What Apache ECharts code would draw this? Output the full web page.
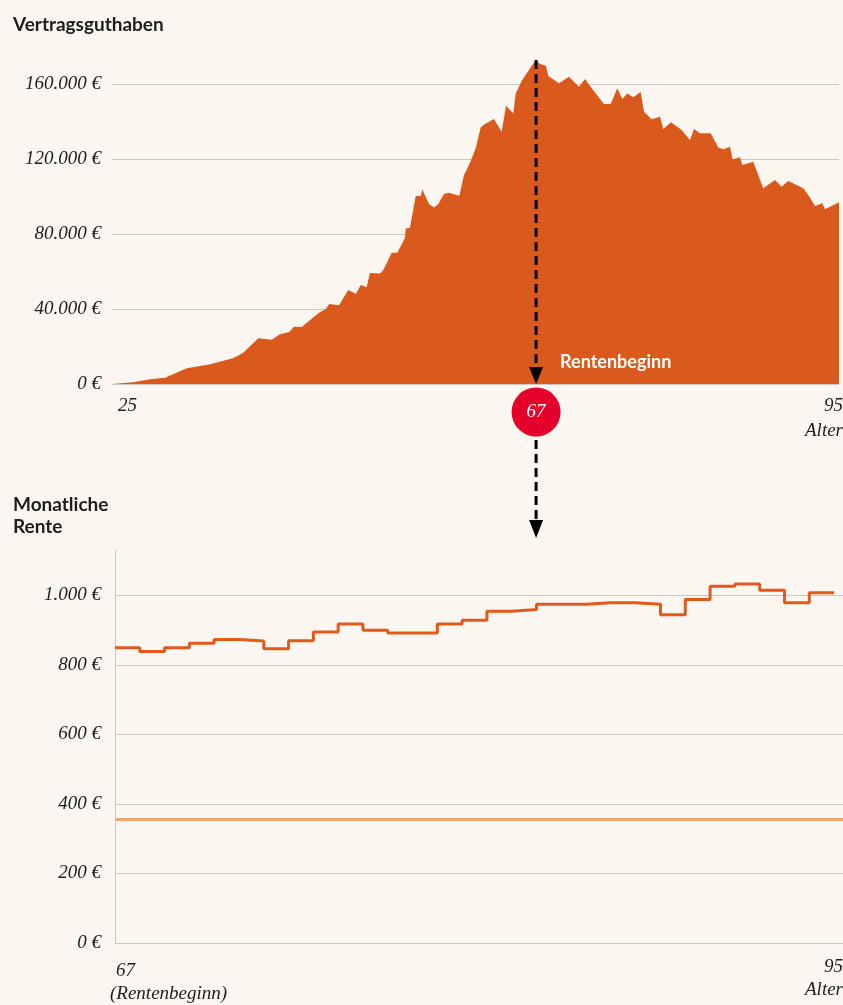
<!DOCTYPE html>
<html>
<head>
<meta charset="utf-8">
<script src="https://cdn.jsdelivr.net/npm/echarts@6/dist/echarts.min.js"></script>
<style>
  html, body { margin: 0; padding: 0; background: #FBF7F0; }
  #chart { width: 843px; height: 1005px; }
</style>
</head>
<body>
<div id="chart"></div>
<script>
// ---- Data ----
// Top chart: contract balance over age (savings phase up to 67, payout phase after)
const balanceAges = [25.00, 27.08, 28.76, 30.25, 32.40, 34.71, 36.98, 38.00, 39.49, 40.82,
  41.64, 42.56, 43.02, 43.79, 45.43, 46.19, 46.52, 47.48, 48.40, 49.16,
  49.63, 50.22, 50.55, 51.54, 51.87, 52.70, 53.26, 54.02, 54.09, 54.51,
  55.08, 55.57, 55.73, 56.40, 56.89, 57.32, 57.88, 58.38, 59.40, 59.86,
  60.36, 61.02, 61.52, 61.94, 62.83, 63.59, 64.02, 64.74, 64.98, 65.58,
  66.07, 66.96, 67.39, 67.98, 68.21, 69.27, 70.26, 71.25, 71.84, 72.51,
  73.73, 74.39, 75.04, 75.54, 76.03, 76.63, 77.36, 77.69, 78.45, 79.27,
  79.60, 80.36, 81.42, 82.24, 82.64, 83.23, 84.29, 85.05, 85.54, 86.21,
  86.47, 87.20, 87.42, 88.51, 89.50, 90.66, 91.32, 91.98, 93.46, 93.96,
  94.62, 95.35, 95.61, 97.00];
const balanceValues = [0, 900, 2500, 3400, 8400, 10500, 13700, 16700, 24400, 23600,
  26500, 27700, 30600, 30400, 37700, 40200, 42700, 42000, 50100, 48200,
  52800, 51600, 59200, 58900, 60800, 70000, 70000, 78000, 83000, 83400,
  100300, 100300, 103800, 96000, 94200, 96000, 101300, 102000, 100400, 111500,
  116800, 125700, 136900, 138700, 141300, 134600, 148400, 144400, 155000, 161800,
  165700, 172800, 170700, 169800, 164300, 160400, 163900, 158600, 162700, 157700,
  149300, 149300, 157700, 152000, 155000, 152900, 155700, 145200, 141200, 142600,
  136000, 139600, 135500, 130100, 136000, 133700, 133700, 126200, 125200, 126600,
  119800, 120900, 116800, 118600, 104400, 108800, 105200, 108300, 104400, 100800,
  94900, 96400, 93200, 96900];

// Bottom chart: monthly pension per year of age 67..95
const renteYears = [67, 68, 69, 70, 71, 72, 73, 74, 75, 76, 77, 78, 79, 80, 81,
  82, 83, 84, 85, 86, 87, 88, 89, 90, 91, 92, 93, 94, 95];
const renteValues = [849, 838, 849, 862, 873, 868, 846, 869, 894, 917, 899, 891, 891, 917, 928,
  954, 959, 974, 974, 978, 978, 974, 944, 988, 1026, 1032, 1014, 978, 1007];
const garantieRente = 356;

const retirementAge = 67;
const topTitle = 'Vertragsguthaben';
const bottomTitle = 'Monatliche\nRente';
const markerText = 'Rentenbeginn';
const topAgeLabels = ['25', '95', 'Alter'];
const bottomAgeLabels = ['67', '(Rentenbeginn)', '95', 'Alter'];

// ---- Chart ----
const BG = '#FBF7F0';
const ORANGE = '#DA5A1D';
const GRID = '#CCC8C1';
const TXT = '#1E1E1E';
const TICKFONT = 'Liberation Serif';

function euro(v) {
  return String(v).replace(/\B(?=(\d{3})+(?!\d))/g, '.') + ' €';
}

const areaData = balanceAges.map((a, i) => [a, balanceValues[i]]);
const stepData = renteYears.map((y, i) => [y, renteValues[i]]);
stepData.push([renteYears[renteYears.length - 1] + 1, renteValues[renteValues.length - 1]]);

const chart = echarts.init(document.getElementById('chart'), null, { renderer: 'canvas' });

const tickLabel = {
  fontFamily: TICKFONT, fontStyle: 'italic', fontSize: 19, color: TXT
};
const titleStyle = { fontFamily: 'Lato', fontWeight: 'bold', fontSize: 19, color: TXT, lineHeight: 22 };

chart.setOption({
  backgroundColor: BG,
  animation: false,
  title: [
    { text: topTitle, left: 8, top: 9, textStyle: titleStyle },
    { text: bottomTitle, left: 8, top: 489, textStyle: titleStyle }
  ],
  grid: [
    { left: 112, right: 4, top: 84, height: 300 },
    { left: 115, right: 0, top: 550, height: 393 }
  ],
  xAxis: [
    { gridIndex: 0, type: 'value', min: 25, max: 97,
      axisLine: { show: false }, axisTick: { show: false }, axisLabel: { show: false }, splitLine: { show: false } },
    { gridIndex: 1, type: 'value', min: 67, max: 96.36,
      axisLine: { show: false }, axisTick: { show: false }, axisLabel: { show: false }, splitLine: { show: false } }
  ],
  yAxis: [
    { gridIndex: 0, type: 'value', min: 0, max: 160000, interval: 40000,
      axisLine: { show: false }, axisTick: { show: false },
      axisLabel: Object.assign({ margin: 11, formatter: euro }, tickLabel),
      splitLine: { show: true, lineStyle: { color: GRID, width: 1 } } },
    { gridIndex: 1, type: 'value', min: 0, max: 1130, interval: 200,
      axisLine: { show: true, lineStyle: { color: GRID, width: 1 } }, axisTick: { show: false },
      axisLabel: Object.assign({ margin: 14, formatter: euro, showMaxLabel: false }, tickLabel),
      splitLine: { show: true, showMaxLine: false, lineStyle: { color: GRID, width: 1 } } }
  ],
  series: [
    { type: 'line', xAxisIndex: 0, yAxisIndex: 0, data: areaData,
      showSymbol: false, clip: false, silent: true,
      lineStyle: { width: 0, color: ORANGE },
      areaStyle: { color: ORANGE, opacity: 1 } },
    { type: 'line', xAxisIndex: 1, yAxisIndex: 1, data: stepData, step: 'end',
      showSymbol: false, silent: true, z: 5,
      lineStyle: { width: 3, color: '#E05A1E' },
      markLine: { silent: true, symbol: 'none', label: { show: false },
        lineStyle: { color: '#F1A67A', width: 3, type: 'solid' },
        data: [{ yAxis: garantieRente }] } }
  ]
});

// ---- Annotations placed through the chart's scales ----
const peak = Math.max.apply(null, balanceValues);
const xr = chart.convertToPixel({ gridIndex: 0 }, [retirementAge, 0])[0];
const yPeak = chart.convertToPixel({ gridIndex: 0 }, [retirementAge, peak])[1];
const yBase = chart.convertToPixel({ gridIndex: 0 }, [retirementAge, 0])[1];
const yBottomTop = chart.convertToPixel({ gridIndex: 1 }, [67, 1130])[1];
const xTopL = chart.convertToPixel({ gridIndex: 0 }, [25, 0])[0];
const xBotL = chart.convertToPixel({ gridIndex: 1 }, [67, 0])[0];
const yBotBase = chart.convertToPixel({ gridIndex: 1 }, [67, 0])[1];

const circleY = yBase + 28;
const dash = { stroke: '#000', lineWidth: 3, lineDash: [9, 5] };
const endLabel = { fontFamily: TICKFONT, fontStyle: 'italic', fontSize: 19, fill: TXT, verticalAlign: 'middle' };

chart.setOption({
  graphic: [
    { type: 'line', z: 20, shape: { x1: xr, y1: yPeak, x2: xr, y2: yBase - 14 }, style: dash },
    { type: 'polygon', z: 20, shape: { points: [[xr - 7, yBase - 17], [xr + 7, yBase - 17], [xr, yBase]] }, style: { fill: '#000' } },
    { type: 'text', z: 20, x: xr + 24, y: yBase - 22,
      style: { text: markerText, fill: '#FFFFFF', fontFamily: 'Lato', fontWeight: 'bold', fontSize: 18, verticalAlign: 'middle' } },
    { type: 'circle', z: 20, shape: { cx: xr, cy: circleY, r: 24.5 }, style: { fill: '#E4002B' } },
    { type: 'text', z: 21, x: xr, y: circleY,
      style: { text: String(retirementAge), fill: '#FFFFFF', fontFamily: TICKFONT, fontStyle: 'italic', fontSize: 19, align: 'center', verticalAlign: 'middle' } },
    { type: 'line', z: 20, shape: { x1: xr, y1: circleY + 28, x2: xr, y2: yBottomTop - 26 }, style: dash },
    { type: 'polygon', z: 20, shape: { points: [[xr - 7, yBottomTop - 30], [xr + 7, yBottomTop - 30], [xr, yBottomTop - 12]] }, style: { fill: '#000' } },
    // axis end labels
    { type: 'text', x: xTopL + 6, y: yBase + 22, style: Object.assign({ text: topAgeLabels[0], align: 'left' }, endLabel) },
    { type: 'text', x: 843, y: yBase + 22, style: Object.assign({ text: topAgeLabels[1], align: 'right' }, endLabel) },
    { type: 'text', x: 843, y: yBase + 47, style: Object.assign({ text: topAgeLabels[2], align: 'right' }, endLabel) },
    { type: 'text', x: xBotL + 1, y: yBotBase + 28, style: Object.assign({ text: bottomAgeLabels[0], align: 'left' }, endLabel) },
    { type: 'text', x: xBotL - 5, y: yBotBase + 51, style: Object.assign({ text: bottomAgeLabels[1], align: 'left' }, endLabel) },
    { type: 'text', x: 843, y: yBotBase + 24, style: Object.assign({ text: bottomAgeLabels[2], align: 'right' }, endLabel) },
    { type: 'text', x: 843, y: yBotBase + 47, style: Object.assign({ text: bottomAgeLabels[3], align: 'right' }, endLabel) }
  ]
});
</script>
</body>
</html>
